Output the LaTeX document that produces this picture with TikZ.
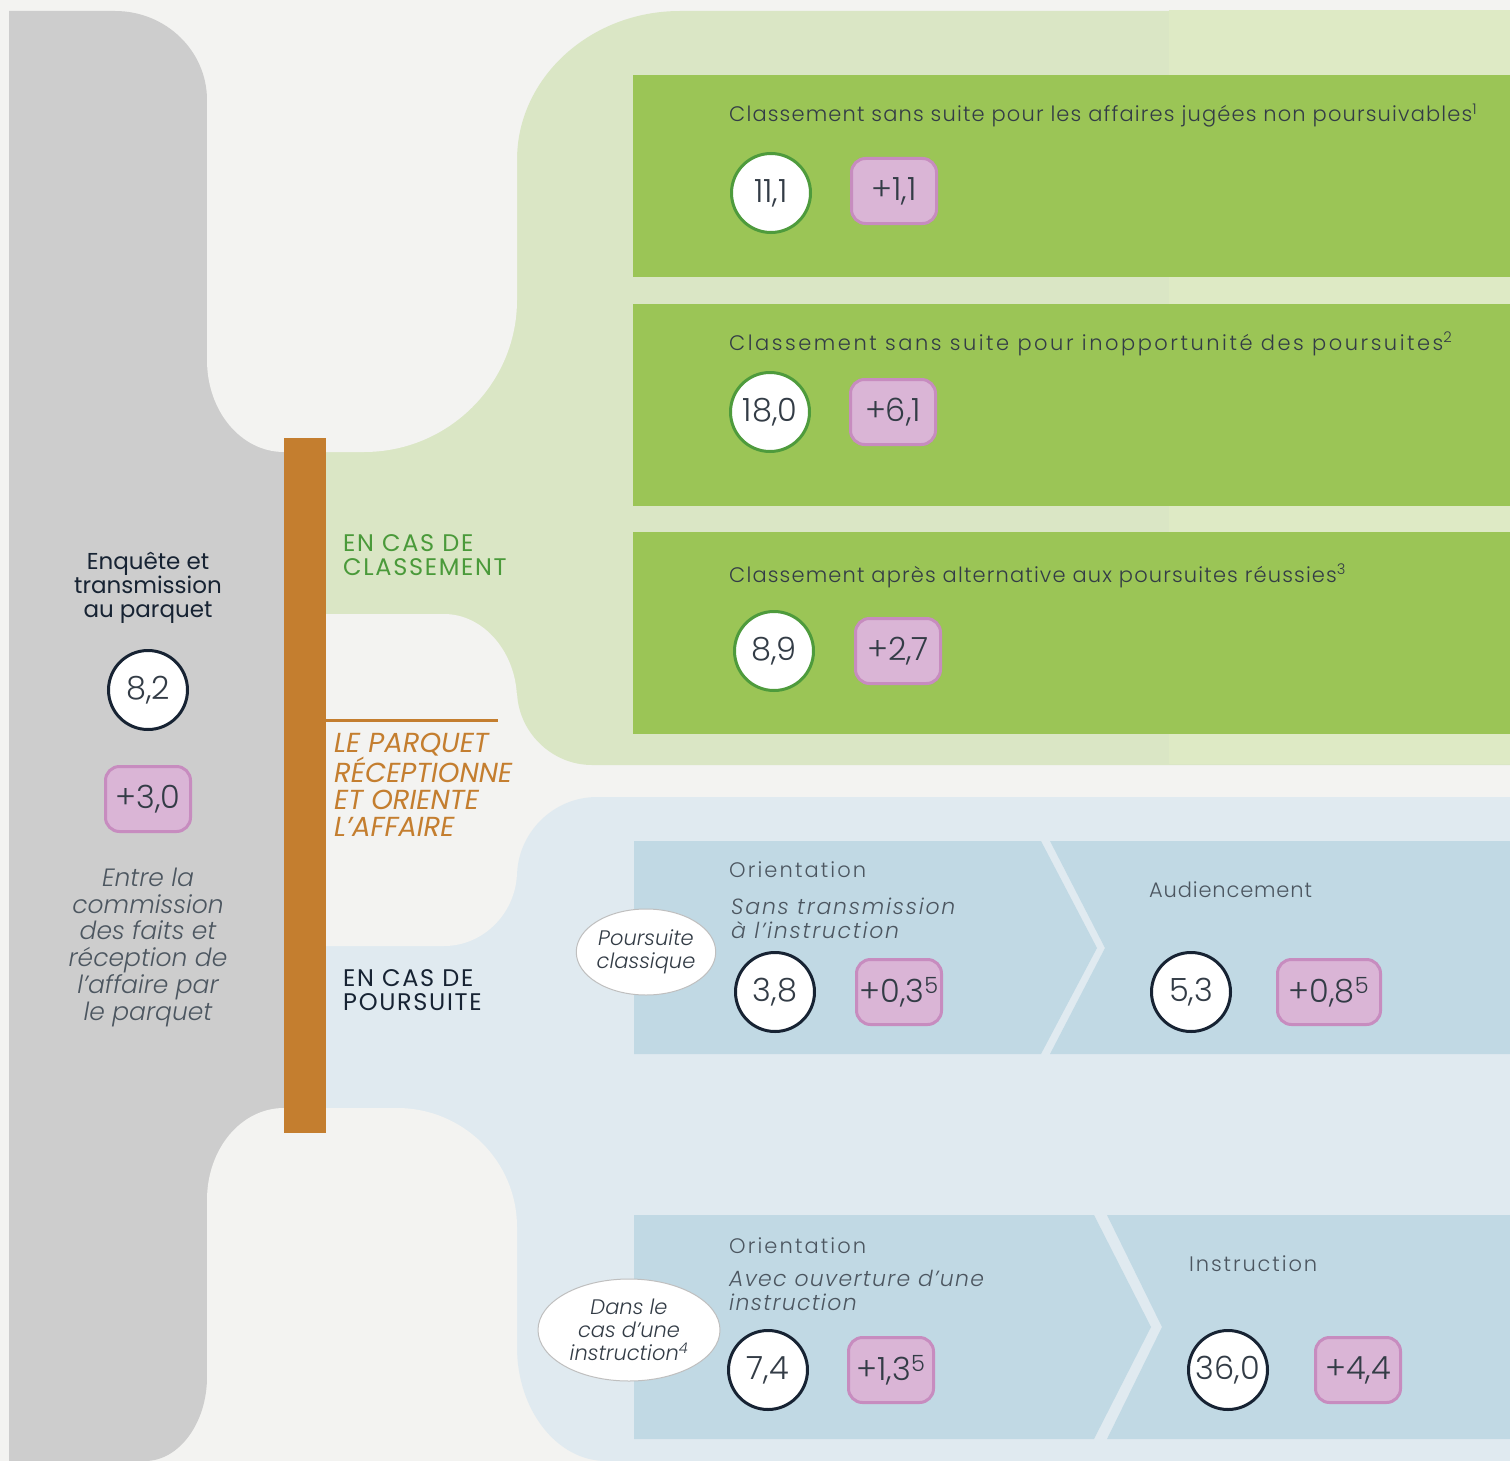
\documentclass[tikz,border=0pt]{standalone}
\usepackage{fontspec}
\setmainfont{Poppins}[UprightFont={* Light},ItalicFont={* Light Italic}]
\newfontfamily\regfont{Poppins}
\usetikzlibrary{shapes.geometric}

\definecolor{pagebg}{HTML}{F3F3F1}
\definecolor{greybg}{HTML}{CDCDCD}
\definecolor{greenbg}{HTML}{DAE6C5}
\definecolor{greenbgr}{HTML}{DEEAC5}
\definecolor{greenbox}{HTML}{9BC556}
\definecolor{greenring}{HTML}{4E9B3C}
\definecolor{bluebg}{HTML}{E0EAF0}
\definecolor{bluebox}{HTML}{C1D9E4}
\definecolor{ochre}{HTML}{C47E2F}
\definecolor{pinkfill}{HTML}{DAB5D6}
\definecolor{pinkline}{HTML}{C78CBF}
\definecolor{navy}{HTML}{172333}
\definecolor{inkgrey}{HTML}{333C46}
\definecolor{softgrey}{HTML}{4C5660}
\definecolor{titlegreen}{HTML}{4A9A3A}

\newcommand{\sz}[2]{\fontsize{#1}{#2}\selectfont}

\begin{document}
\begin{tikzpicture}[x=1pt,y=-1pt,
	val/.style={circle,draw,line width=3pt,fill=white,minimum size=79pt,inner sep=0pt,text=inkgrey,font=\sz{32}{32}},
	greenval/.style={val,draw=greenring},
	darkval/.style={val,draw=navy},
	delta/.style={rectangle,rounded corners=14pt,draw=pinkline,fill=pinkfill,line width=3pt,minimum width=85pt,minimum height=65pt,inner sep=0pt,text=inkgrey,font=\sz{32}{32}},
	bubble/.style={ellipse,draw=black!25,fill=white,line width=1pt,inner sep=0pt,align=center,text=inkgrey,font=\sz{21}{23}\itshape},
	boxtitle/.style={anchor=base west,inner sep=0pt,text=inkgrey,font=\sz{21}{24}},
	boxsub/.style={anchor=base west,inner sep=0pt,align=left,text=softgrey,font=\sz{22}{23.5}\itshape\addfontfeatures{LetterSpace=8}},
	caps/.style={anchor=base west,inner sep=0pt,align=left,font=\regfont\sz{24}{23.5}\addfontfeatures{LetterSpace=7}}]

	\useasboundingbox (0,0) rectangle (1510,1461);
	\fill[pagebg] (0,0) rectangle (1510,1461);

	% grey column
	\fill[greybg] (9,11) -- (115,11) .. controls (166,11) and (207,51) .. (207,100)
		-- (207,1377) .. controls (207,1423) and (179,1461) .. (145,1461) -- (9,1461) -- cycle;
	\fill[greybg] (200,300) rectangle (300,1250);

	% green band
	\fill[greenbg] (517,160) .. controls (517,78) and (590,11) .. (680,11) -- (1510,11)
		-- (1510,765) -- (592,765) .. controls (551,765) and (517,731) .. (517,690) -- cycle;
	\fill[greenbgr] (1169,10) rectangle (1510,764);
	\fill[greenbg] (290,290) rectangle (517,720);

	% blue band
	\fill[bluebg] (517,877) .. controls (517,833) and (553,797) .. (597,797) -- (1510,797)
		-- (1510,1461) -- (606,1461) .. controls (557,1461) and (517,1410) .. (517,1347) -- cycle;
	\fill[bluebg] (290,860) rectangle (517,1240);

	% notches
	\fill[pagebg] (207,0) -- (207,360) .. controls (207,411) and (241,452) .. (284,452)
		-- (364,452) .. controls (448,452) and (517,384) .. (517,300) -- (517,0) -- cycle;
	\fill[pagebg] (284,614) -- (444,614) .. controls (484,614) and (517,653) .. (517,700)
		-- (517,871) .. controls (517,912) and (484,946) .. (444,946) -- (284,946) -- cycle;
	\fill[pagebg] (207,1461) -- (207,1200) .. controls (207,1149) and (241,1108) .. (284,1108)
		-- (397,1108) .. controls (463,1108) and (517,1161) .. (517,1227) -- (517,1461) -- cycle;

	% parquet bar
	\fill[ochre] (284,438) rectangle (326,1133);
	\draw[ochre,line width=3pt] (326,720) -- (498,720);

	% classement boxes
	\foreach \t/\b in {75/277,304/506,532/734}
	\fill[greenbox] (633,\t) rectangle (1510,\b);

	% poursuite boxes
	\fill[bluebox] (634,841) -- (1041,841) -- (1097,948) -- (1041,1054) -- (634,1054) -- cycle;
	\fill[bluebox] (1050,841) -- (1510,841) -- (1510,1054) -- (1050,1054) -- (1105,948) -- cycle;
	\fill[bluebox] (634,1215) -- (1094,1215) -- (1151,1327) -- (1094,1439) -- (634,1439) -- cycle;
	\fill[bluebox] (1107,1215) -- (1510,1215) -- (1510,1439) -- (1107,1439) -- (1162,1327) -- cycle;

	% left column
	\node[anchor=base,inner sep=0pt,align=center,text=navy,font=\regfont\sz{23}{24}] (enq) at (148,617) {Enquête et\\transmission\\au parquet};
	\node[darkval] (enqv) at (148,690) {8,2};
	\node[delta] (enqd) at (148,799) {+3,0};
	\node[anchor=base,inner sep=0pt,align=center,text=softgrey,font=\sz{25}{26.7}\itshape] (enqt) at (148,1020)
		{Entre la\\commission\\des faits et\\réception de\\l’affaire par\\le parquet};

	% middle labels
	\node[caps,text=titlegreen] (cls) at (343,575) {EN CAS DE\\CLASSEMENT};
	\node[anchor=base west,inner sep=0pt,align=left,text=ochre,font=\regfont\sz{27.5}{26.7}\itshape] (parq) at (334,836)
		{LE PARQUET\\RÉCEPTIONNE\\ET ORIENTE\\L’AFFAIRE};
	\node[caps,text=navy] (pours) at (343,1010) {EN CAS DE\\POURSUITE};

	% classement
	\node[boxtitle,font=\sz{21}{24}\addfontfeatures{LetterSpace=5.5}] (t1) at (729,122) {Classement sans suite pour les affaires jugées non poursuivables\textsuperscript{1}};
	\node[greenval] (v1) at (771,193) {11,1};
	\node[delta] (d1) at (894,191) {+1,1};

	\node[boxtitle,font=\sz{21}{24}\addfontfeatures{LetterSpace=12}] (t2) at (729,350) {Classement sans suite pour inopportunité des poursuites\textsuperscript{2}};
	\node[greenval] (v2) at (770,412) {18,0};
	\node[delta] (d2) at (893,412) {+6,1};

	\node[boxtitle,font=\sz{21}{24}\addfontfeatures{LetterSpace=5.5}] (t3) at (729,582) {Classement après alternative aux poursuites réussies\textsuperscript{3}};
	\node[greenval] (v3) at (774,651) {8,9};
	\node[delta] (d3) at (898,651) {+2,7};

	% poursuite classique
	\node[bubble,minimum width=136pt,minimum height=86pt] (pc) at (646,952) {Poursuite\\classique};
	\node[boxtitle,text=softgrey,font=\sz{21}{24}\addfontfeatures{LetterSpace=10}] (o1) at (729,877) {Orientation};
	\node[boxsub] (s1) at (731,938) {Sans transmission\\à l’instruction};
	\node[darkval] (v4) at (775,992) {3,8};
	\node[delta] (d4) at (899,992) {+0,3\textsuperscript{5}};
	\node[boxtitle,text=softgrey,font=\sz{21}{24}\addfontfeatures{LetterSpace=4}] (a1) at (1149,897) {Audiencement};
	\node[darkval] (v5) at (1191,992) {5,3};
	\node[delta,minimum width=103pt] (d5) at (1329,992) {+0,8\textsuperscript{5}};

	% instruction
	\node[bubble,minimum width=182pt,minimum height=102pt] (ic) at (629,1330) {Dans le\\cas d’une\\instruction\textsuperscript{4}};
	\node[boxtitle,text=softgrey,font=\sz{21}{24}\addfontfeatures{LetterSpace=10}] (o2) at (729,1253) {Orientation};
	\node[boxsub,font=\sz{22}{24}\itshape\addfontfeatures{LetterSpace=6}] (s2) at (729,1310) {Avec ouverture d’une\\instruction};
	\node[darkval] (v6) at (768,1370) {7,4};
	\node[delta] (d6) at (891,1370) {+1,3\textsuperscript{5}};
	\node[boxtitle,text=softgrey,font=\sz{21}{24}\addfontfeatures{LetterSpace=9}] (i1) at (1189,1271) {Instruction};
	\node[darkval] (v7) at (1228,1370) {36,0};
	\node[delta] (d7) at (1358,1370) {+4,4};
\end{tikzpicture}
\end{document}
